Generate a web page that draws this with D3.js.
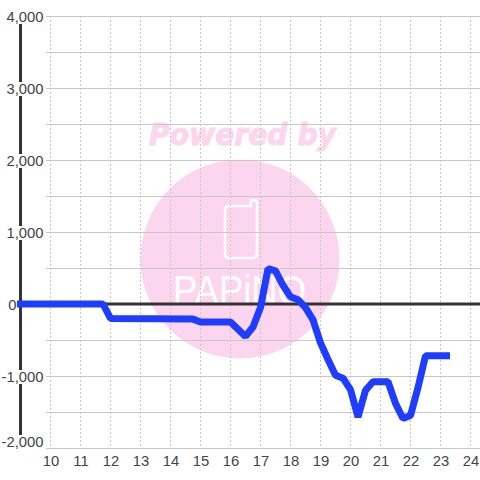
<!DOCTYPE html>
<html>
<head>
<meta charset="utf-8">
<script src="https://d3js.org/d3.v7.min.js"></script>
<style>
    html, body { margin: 0; padding: 0; background: #fff; }
    svg { display: block; }
    text { font-family: "Liberation Sans", sans-serif; font-size: 14.8px; fill: #444; }
</style>
</head>
<body>
<svg width="480" height="480"></svg>
<script>
var xTicks = [10, 11, 12, 13, 14, 15, 16, 17, 18, 19, 20, 21, 22, 23, 24];
var yTicks = [4000, 3000, 2000, 1000, 0, -1000, -2000];
var yGrid = [4000, 3500, 3000, 2500, 2000, 1500, 1000, 500, -500, -1000, -1500, -2000];

var hours = [9, 11.75, 12, 14.75, 15, 16, 16.5, 16.75, 17, 17.25, 17.5, 17.75, 18, 18.25, 18.5, 18.75, 19, 19.25, 19.5, 19.75, 20, 20.25, 20.5, 20.75, 21, 21.25, 21.5, 21.75, 22, 22.25, 22.5, 23.2];
var values = [0, 0, -200, -210, -250, -250, -450, -320, -50, 490, 460, 260, 100, 60, -50, -220, -540, -770, -990, -1030, -1190, -1570, -1200, -1080, -1080, -1080, -1380, -1590, -1550, -1160, -720, -720];

var x = d3.scaleLinear().domain([9, 24]).range([20.5, 470.5]);
var y = d3.scaleLinear().domain([-2000, 4000]).range([448, 16]);

var svg = d3.select("svg");

// watermark sits under the grid
var mark = svg.append("g");
mark.append("circle").attr("cx", 240).attr("cy", 259).attr("r", 99.5).attr("fill", "#fcd6ee");
mark.append("text").text("Powered by")
    .attr("x", 149).attr("y", 145).attr("textLength", 187).attr("lengthAdjust", "spacingAndGlyphs")
    .style("font-family", "DejaVu Sans").style("font-weight", "bold").style("font-style", "italic")
    .style("font-size", "31px").style("fill", "#fcd6ee")
    .style("stroke", "#fcd6ee").style("stroke-width", 1);
mark.append("path")
    .attr("d", "M229 206 H251 V202 Q251 200 254 200 Q257 200 257 203 V253 Q257 258 252 258 H229 Q225 258 225 254 V210 Q225 206 229 206 Z")
    .attr("fill", "none").attr("stroke", "#fff").attr("stroke-width", 2.5);
mark.append("text").text("PAPiNO")
    .attr("x", 173).attr("y", 305).attr("textLength", 133).attr("lengthAdjust", "spacingAndGlyphs")
    .style("font-size", "43px").style("fill", "#fff");

// grid
svg.append("g").selectAll("line").data(xTicks).enter().append("line")
    .attr("x1", d => x(d)).attr("x2", d => x(d))
    .attr("y1", y(4000)).attr("y2", y(-2000))
    .attr("stroke", "#c8c8c8").attr("stroke-dasharray", "2,2");
svg.append("g").selectAll("line").data(yGrid).enter().append("line")
    .attr("x1", 46).attr("x2", 480)
    .attr("y1", d => y(d) + 0.5).attr("y2", d => y(d) + 0.5)
    .attr("stroke", "#c8c8c8");

// axis lines
svg.append("line").attr("x1", x(9)).attr("x2", x(9)).attr("y1", y(4000)).attr("y2", y(-2000))
    .attr("stroke", "#333").attr("stroke-width", 3);
svg.append("line").attr("x1", 20).attr("x2", 480).attr("y1", y(0)).attr("y2", y(0))
    .attr("stroke", "#333").attr("stroke-width", 3);

// y labels have a white box that cuts the axis line, except 0 which sits left of it
var yLabel = svg.append("g").selectAll("g").data(yTicks).enter().append("g")
    .attr("transform", d => "translate(0," + (d == -2000 ? y(d) - 6 : y(d) + 1) + ")");
yLabel.filter(d => d != 0).append("rect")
    .attr("x", 2).attr("y", -7).attr("width", 42).attr("height", 14)
    .attr("fill", "#fff");
yLabel.append("text").text(d => d3.format(",")(d).replace("\u2212", "-"))
    .attr("x", d => d == 0 ? 16.5 : 43.5).attr("y", 5).attr("text-anchor", "end");

svg.append("g").selectAll("text").data(xTicks).enter().append("text")
    .text(d => d)
    .attr("x", d => x(d) + 0.5).attr("y", 466).attr("text-anchor", "middle");

// series
var line = d3.line().x(d => x(d[0])).y(d => y(d[1]));
svg.append("path")
    .attr("d", line(d3.zip(hours, values)))
    .attr("fill", "none").attr("stroke", "#1f3dff").attr("stroke-width", 7)
    .attr("stroke-linejoin", "bevel").attr("stroke-linecap", "square");
</script>
</body>
</html>
